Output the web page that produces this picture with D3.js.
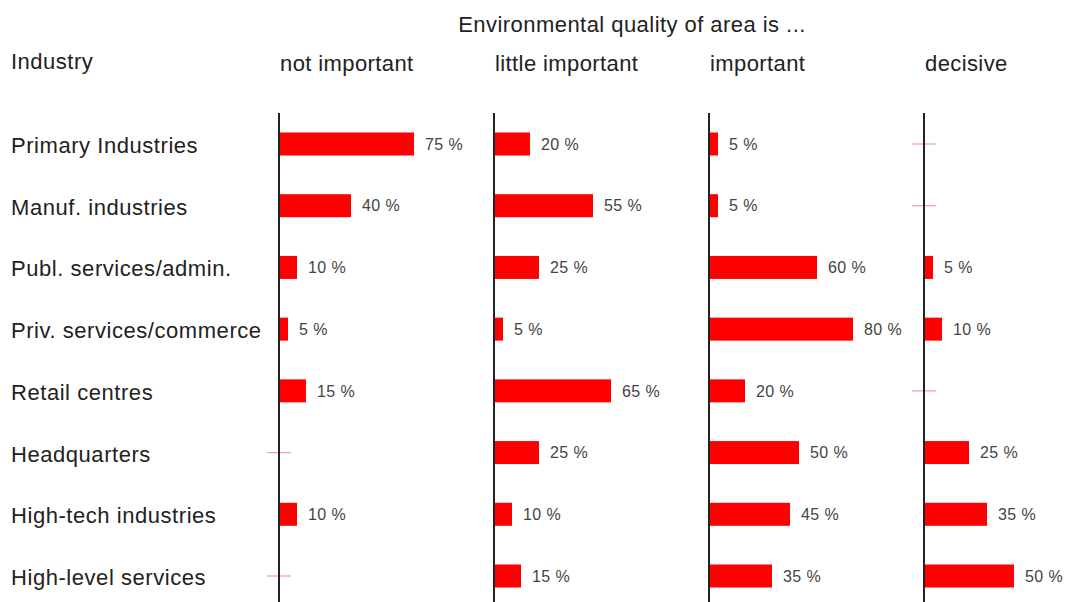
<!DOCTYPE html>
<html>
<head>
<meta charset="utf-8">
<script src="https://cdn.jsdelivr.net/npm/d3@7"></script>
<style>
  body { margin: 0; background: #fff; }
  svg text { font-family: "Liberation Sans", Arial, sans-serif; }
</style>
</head>
<body>
<div id="chart"></div>
<script>
const width = 1066;
const height = 602;

// ******** DATA *********
var industries = ["Primary Industries", "Manuf. industries", "Publ. services/admin.",
  "Priv. services/commerce", "Retail centres", "Headquarters",
  "High-tech industries", "High-level services"];
var levels = ["not important", "little important", "important", "decisive"];
var notImportant    = [75, 40, 10,  5, 15,  0, 10,  0];
var littleImportant = [20, 55, 25,  5, 65, 25, 10, 15];
var important       = [ 5,  5, 60, 80, 20, 50, 45, 35];
var decisive        = [ 0,  0,  5, 10,  0, 25, 35, 50];
var series = [notImportant, littleImportant, important, decisive];

// ******** SVG *********
var svg = d3.select("#chart").append("svg")
  .attr("width", width)
  .attr("height", height);

// ******** SCALES *********
var col_scale = d3.scalePoint()
  .domain(levels)
  .range([279, 924]);

var row_scale = d3.scalePoint()
  .domain(industries)
  .range([144, 576]);

var x_scale = d3.scaleLinear()
  .domain([0, 100])
  .range([0, 180]);

var barH = 23;

// ******** TITLES *********
svg.append("text")
  .attr("x", 632)
  .attr("y", 32)
  .attr("text-anchor", "middle")
  .style("font-size", "22px")
  .style("letter-spacing", "0.45px")
  .style("fill", "#222")
  .text("Environmental quality of area is ...");

svg.append("text")
  .attr("x", 11)
  .attr("y", 69)
  .style("font-size", "22px")
  .style("letter-spacing", "0.5px")
  .style("fill", "#222")
  .text("Industry");

svg.selectAll(".colhead")
  .data(levels)
  .enter().append("text")
  .attr("class", "colhead")
  .attr("x", d => col_scale(d) + 1)
  .attr("y", 71)
  .style("font-size", "22px")
  .style("letter-spacing", "0.4px")
  .style("fill", "#222")
  .text(d => d);

// ******** ROW LABELS *********
svg.selectAll(".rowlabel")
  .data(industries)
  .enter().append("text")
  .attr("class", "rowlabel")
  .attr("x", 11)
  .attr("y", d => row_scale(d) + 9)
  .style("font-size", "22px")
  .style("letter-spacing", "0.55px")
  .style("fill", "#222")
  .text(d => d);

// ******** PANELS *********
levels.forEach(function(level, j){
  var x0 = col_scale(level);
  var g = svg.append("g")
    .attr("transform", `translate(${x0}, 0)`);

  var cells = series[j].map(function(v, i){
    return {industry: industries[i], value: v};
  });

  // zero markers
  g.selectAll(".zero")
    .data(cells.filter(d => d.value === 0))
    .enter().append("line")
    .attr("x1", -12)
    .attr("x2", 12)
    .attr("y1", d => row_scale(d.industry))
    .attr("y2", d => row_scale(d.industry))
    .style("stroke", "#f29aa0")
    .style("stroke-width", 1.2);

  // bars
  g.selectAll(".bar")
    .data(cells.filter(d => d.value > 0))
    .enter().append("rect")
    .attr("x", 0)
    .attr("y", d => row_scale(d.industry) - barH/2)
    .attr("width", d => x_scale(d.value))
    .attr("height", barH)
    .style("fill", "#ff0000");

  // value labels
  g.selectAll(".val")
    .data(cells.filter(d => d.value > 0))
    .enter().append("text")
    .attr("x", d => x_scale(d.value) + 11)
    .attr("y", d => row_scale(d.industry))
    .attr("dy", "0.36em")
    .style("font-size", "16px")
    .style("letter-spacing", "0.4px")
    .style("fill", "#444")
    .text(d => d.value + " %");

  // axis line
  g.append("line")
    .attr("x1", 0)
    .attr("x2", 0)
    .attr("y1", 113)
    .attr("y2", height)
    .style("stroke", "#222")
    .style("stroke-width", 2);
});
</script>
</body>
</html>
